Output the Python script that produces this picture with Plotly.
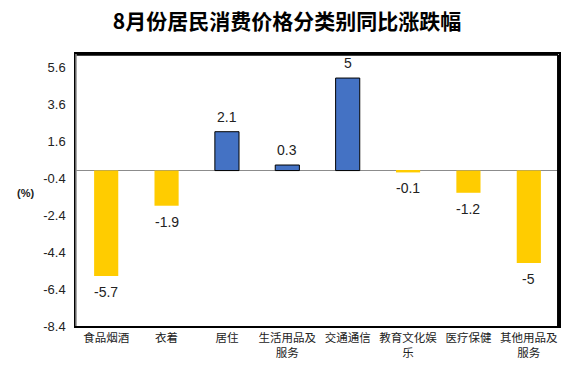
import plotly.graph_objects as go

categories = ["食品烟酒", "衣着", "居住", "生活用品及<br>服务", "交通通信", "教育文化娱<br>乐", "医疗保健", "其他用品及<br>服务"]
values = [-5.7, -1.9, 2.1, 0.3, 5.0, -0.1, -1.2, -5.0]
labels = ["-5.7", "-1.9", "2.1", "0.3", "5", "-0.1", "-1.2", "-5"]
ytick_vals = [-8.4, -6.4, -4.4, -2.4, -0.4, 1.6, 3.6, 5.6]
ytick_text = ["-8.4", "-6.4", "-4.4", "-2.4", "-0.4", "1.6", "3.6", "5.6"]

colors = ["#4472C4" if v > 0 else "#FFCC00" for v in values]
line_colors = ["#000000" if v > 0 else "rgba(0,0,0,0)" for v in values]
line_widths = [1 if v > 0 else 0 for v in values]

font_family = "Liberation Sans, Arial, Noto Sans CJK SC, sans-serif"
cjk_family = "Noto Sans CJK SC, sans-serif"

fig = go.Figure(go.Bar(
    x=categories,
    y=values,
    width=0.4,
    marker=dict(color=colors, line=dict(color=line_colors, width=line_widths)),
    hoverinfo="skip",
))

for cat, val, lab in zip(categories, values, labels):
    fig.add_annotation(x=cat, y=val, text=lab, showarrow=False,
                       yanchor="bottom" if val > 0 else "top",
                       yshift=5 if val > 0 else -6,
                       font=dict(size=14, color="#222222", family=font_family))

fig.update_layout(
    width=574, height=374,
    margin=dict(l=76, r=15, t=54, b=48, autoexpand=False),
    paper_bgcolor="white", plot_bgcolor="white",
    title=dict(text="<b>8月份居民消费价格分类别同比涨跌幅</b>", x=0.5, xanchor="center",
               y=1 - 22 / 374, yanchor="middle",
               font=dict(size=21, color="#000000", family=cjk_family)),
    showlegend=False,
    font=dict(family=font_family, color="#222222"),
)
fig.update_xaxes(showline=True, mirror=True, linecolor="#000000", linewidth=1.5,
                 showgrid=False, ticks="", tickangle=0, automargin=False,
                 tickfont=dict(size=11.5, family=cjk_family, color="#222222"))
fig.update_yaxes(range=[-8.4, 6.3], tickvals=ytick_vals, ticktext=ytick_text,
                 showline=True, mirror=True, linecolor="#000000", linewidth=1.5,
                 showgrid=False, zeroline=True, zerolinecolor="#8c8c8c", zerolinewidth=1.2,
                 ticks="", automargin=False, ticklabelstandoff=6,
                 tickfont=dict(size=13, color="#222222"))

# frame: top and right edges black, left edge gray
fig.add_shape(type="line", xref="paper", yref="paper", x0=0, x1=0.998, y0=0.997, y1=0.997,
              line=dict(color="#000000", width=2), layer="above")
fig.add_shape(type="line", xref="paper", yref="paper", x0=0.998, x1=0.998, y0=0, y1=0.997,
              line=dict(color="#000000", width=2), layer="above")
fig.add_shape(type="line", xref="x domain", yref="y domain", x0=0, x1=0, y0=0, y1=1,
              line=dict(color="#8c8c8c", width=1.5), layer="above")
fig.add_annotation(text="<b>(%)</b>", xref="paper", yref="paper", x=-0.105, y=0.49,
                   xanchor="center", yanchor="middle", showarrow=False,
                   font=dict(size=11, color="#222222"))

fig.write_html("out.html", config={"displayModeBar": False},
               post_script="document.body.style.margin='0';")
